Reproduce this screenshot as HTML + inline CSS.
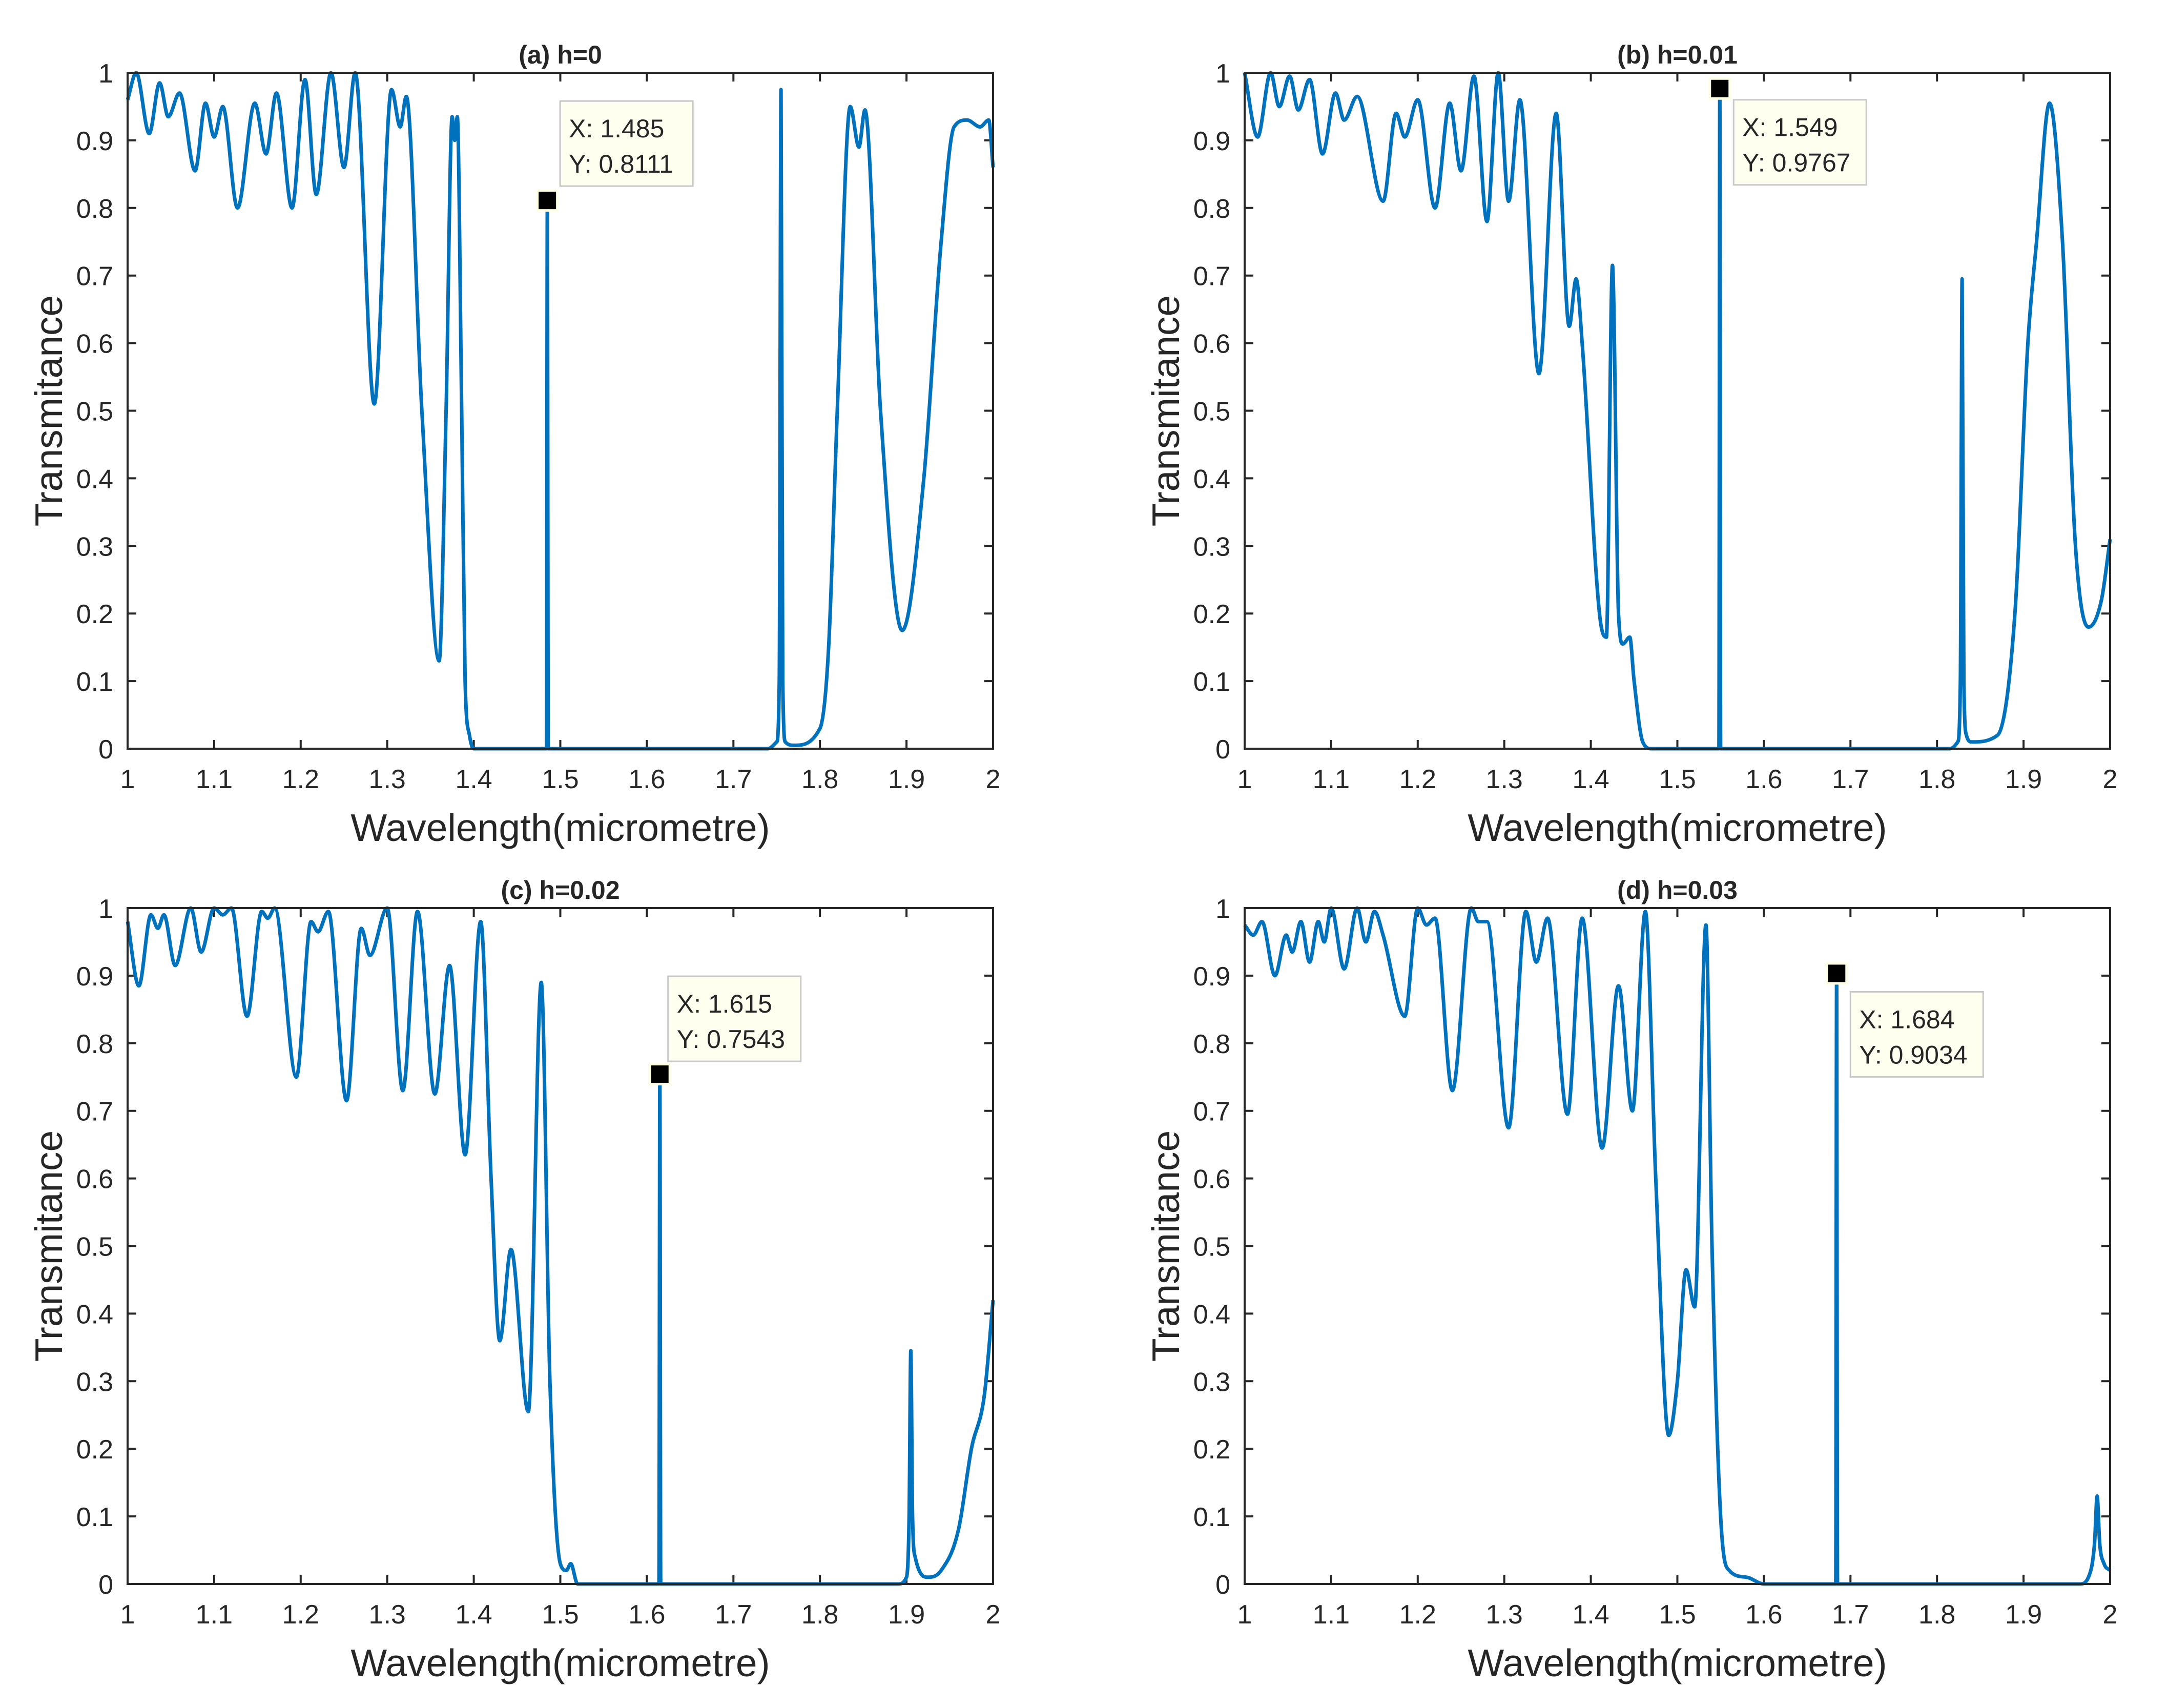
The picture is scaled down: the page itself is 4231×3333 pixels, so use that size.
<!DOCTYPE html>
<html><head><meta charset="utf-8">
<style>
html,body{margin:0;padding:0;background:#fff;}
svg{display:block;}
text{font-family:"Liberation Sans",Arial,sans-serif;fill:#262626;}
</style></head>
<body>
<svg id="chart" xmlns="http://www.w3.org/2000/svg" width="4231" height="3333" viewBox="0 0 4231 3333"></svg>
<script>
const xTicks = [1,1.1,1.2,1.3,1.4,1.5,1.6,1.7,1.8,1.9,2];
const xTickLabels = ["1","1.1","1.2","1.3","1.4","1.5","1.6","1.7","1.8","1.9","2"];
const yTicks = [0,0.1,0.2,0.3,0.4,0.5,0.6,0.7,0.8,0.9,1];
const yTickLabels = ["0","0.1","0.2","0.3","0.4","0.5","0.6","0.7","0.8","0.9","1"];
const panelTitles = ["(a) h=0","(b) h=0.01","(c) h=0.02","(d) h=0.03"];

const xA = [1.0,1.01,1.025,1.037,1.047,1.06,1.078,1.09,1.1,1.11,1.127,1.147,1.16,1.172,1.19,1.205,1.218,1.235,1.25,1.263,1.285,1.305,1.315,1.322,1.34,1.36,1.368,1.375,1.378,1.381,1.386,1.39,1.395,1.4,1.484,1.485,1.486,1.74,1.75,1.753,1.755,1.757,1.76,1.77,1.8,1.81,1.82,1.835,1.845,1.852,1.87,1.895,1.92,1.94,1.955,1.97,1.985,1.995,2.0];
const yA = [0.96,1.0,0.91,0.985,0.935,0.97,0.855,0.955,0.905,0.95,0.80,0.955,0.88,0.97,0.80,0.99,0.82,1.0,0.86,1.0,0.51,0.975,0.92,0.965,0.5,0.13,0.5,0.935,0.9,0.935,0.5,0.1,0.02,0.0,0.0,0.8111,0.0,0.0,0.01,0.1,0.975,0.1,0.01,0.005,0.03,0.15,0.5,0.95,0.89,0.945,0.5,0.175,0.4,0.75,0.92,0.93,0.92,0.93,0.86];
const xB = [1.0,1.015,1.03,1.04,1.052,1.062,1.075,1.09,1.105,1.115,1.13,1.16,1.175,1.185,1.2,1.22,1.237,1.25,1.265,1.28,1.293,1.305,1.318,1.34,1.36,1.375,1.383,1.39,1.41,1.418,1.425,1.432,1.437,1.445,1.45,1.46,1.47,1.548,1.549,1.55,1.815,1.824,1.827,1.829,1.831,1.834,1.84,1.87,1.89,1.905,1.915,1.93,1.945,1.96,1.975,1.99,2.0];
const yB = [1.0,0.905,1.0,0.95,0.995,0.945,0.99,0.88,0.97,0.93,0.965,0.81,0.94,0.905,0.96,0.80,0.955,0.855,0.995,0.78,1.0,0.81,0.96,0.555,0.94,0.625,0.695,0.6,0.2,0.165,0.715,0.2,0.155,0.165,0.1,0.01,0.0,0.0,0.9767,0.0,0.0,0.01,0.1,0.695,0.1,0.02,0.01,0.02,0.2,0.6,0.75,0.955,0.75,0.3,0.18,0.22,0.31];
const xC = [1.0,1.013,1.027,1.035,1.042,1.055,1.073,1.085,1.1,1.11,1.12,1.138,1.155,1.162,1.17,1.195,1.212,1.22,1.232,1.253,1.27,1.28,1.3,1.318,1.335,1.355,1.372,1.39,1.408,1.42,1.43,1.443,1.463,1.478,1.488,1.5,1.507,1.512,1.52,1.614,1.615,1.616,1.89,1.9,1.903,1.905,1.907,1.91,1.925,1.94,1.96,1.975,1.99,2.0];
const yC = [0.98,0.885,0.99,0.97,0.99,0.915,1.0,0.935,1.0,0.99,1.0,0.84,0.995,0.985,1.0,0.75,0.98,0.965,0.995,0.715,0.97,0.93,1.0,0.73,0.995,0.725,0.915,0.635,0.98,0.6,0.36,0.495,0.255,0.89,0.3,0.03,0.02,0.03,0.0,0.0,0.7543,0.0,0.0,0.01,0.1,0.345,0.1,0.04,0.01,0.02,0.08,0.2,0.28,0.42];
const xD = [1.0,1.01,1.02,1.035,1.048,1.055,1.065,1.075,1.085,1.092,1.1,1.115,1.13,1.14,1.15,1.16,1.185,1.2,1.21,1.22,1.24,1.262,1.27,1.28,1.305,1.325,1.337,1.35,1.373,1.39,1.413,1.432,1.448,1.463,1.475,1.49,1.5,1.51,1.52,1.533,1.54,1.55,1.56,1.58,1.6,1.683,1.684,1.685,1.965,1.975,1.982,1.985,1.988,1.993,2.0];
const yD = [0.975,0.96,0.98,0.9,0.96,0.935,0.98,0.92,0.98,0.95,1.0,0.91,1.0,0.95,0.995,0.96,0.84,1.0,0.975,0.985,0.73,1.0,0.98,0.98,0.675,0.995,0.92,0.985,0.695,0.985,0.645,0.885,0.7,0.995,0.6,0.22,0.3,0.465,0.41,0.975,0.5,0.1,0.02,0.01,0.0,0.0,0.9034,0.0,0.0,0.01,0.06,0.13,0.06,0.03,0.02];

const tipX = [1.485,1.549,1.615,1.684];
const tipY = [0.8111,0.9767,0.7543,0.9034];

const NS = "http://www.w3.org/2000/svg";
const svg = document.getElementById('chart');
function el(tag, attrs, parent){
  const e = document.createElementNS(NS, tag);
  for (const k in attrs) e.setAttribute(k, attrs[k]);
  (parent||svg).appendChild(e);
  return e;
}
function monoPath(px, py){
  const n = px.length;
  const d = [], m = new Array(n);
  for (let i=0;i<n-1;i++) d.push((py[i+1]-py[i])/(px[i+1]-px[i]));
  m[0]=d[0]; m[n-1]=d[n-2];
  for (let i=1;i<n-1;i++){
    if (d[i-1]*d[i] <= 0) m[i]=0;
    else { m[i]=(d[i-1]+d[i])/2; }
  }
  for (let i=0;i<n-1;i++){
    if (d[i]===0){ m[i]=0; m[i+1]=0; continue; }
    const a=m[i]/d[i], b=m[i+1]/d[i], s=a*a+b*b;
    if (s>9){ const t=3/Math.sqrt(s); m[i]=t*a*d[i]; m[i+1]=t*b*d[i]; }
  }
  let p = "M"+px[0].toFixed(1)+","+py[0].toFixed(1);
  for (let i=0;i<n-1;i++){
    const h=(px[i+1]-px[i])/3;
    p += " C"+(px[i]+h).toFixed(1)+","+(py[i]+m[i]*h).toFixed(1)+" "+(px[i+1]-h).toFixed(1)+","+(py[i+1]-m[i+1]*h).toFixed(1)+" "+px[i+1].toFixed(1)+","+py[i+1].toFixed(1);
  }
  return p;
}

const panels = [
  {L:249,T:142,xs:xA,ys:yA,tipDx:25,tipDy:-194,key:'a'},
  {L:2429,T:142,xs:xB,ys:yB,tipDx:27,tipDy:22,key:'b'},
  {L:249,T:1772,xs:xC,ys:yC,tipDx:16,tipDy:-191,key:'c'},
  {L:2429,T:1772,xs:xD,ys:yD,tipDx:27,tipDy:36,key:'d'}
];
const W=1689, H=1319;

panels.forEach((P, idx)=>{
  const g = el('g',{});
  
  
  const sx = v => P.L + (v-1)*W;
  const sy = v => P.T + H - v*H;

  xTicks.forEach((t,i)=>{
    const x = sx(t);
    const tk = el('path',{d:`M${x},${P.T+H} v-17 M${x},${P.T} v17`,stroke:'#262626','stroke-width':4,fill:'none'},g);
    
    
    const lb = el('text',{x:x,y:P.T+H+77,'font-size':52,'text-anchor':'middle'},g);
    lb.textContent = xTickLabels[i];
    
    
  });
  yTicks.forEach((t,i)=>{
    const y = sy(t);
    const tk = el('path',{d:`M${P.L},${y} h17 M${P.L+W},${y} h-17`,stroke:'#262626','stroke-width':4,fill:'none'},g);
    
    
    const lb = el('text',{x:P.L-28,y:y+19,'font-size':52,'text-anchor':'end'},g);
    lb.textContent = yTickLabels[i];
    
    
  });

  const px = P.xs.map(sx), py = P.ys.map(sy);
  const line = el('path',{d:monoPath(px,py),stroke:'#0072BD','stroke-width':7,fill:'none','stroke-linejoin':'round'},g);
  
  

  const box = el('rect',{x:P.L,y:P.T,width:W,height:H,fill:'none',stroke:'#262626','stroke-width':4},g);
  
  

  const ti = el('text',{x:P.L+W/2,y:P.T-18,'font-size':50,'font-weight':'bold','text-anchor':'middle',fill:'#000'},g);
  ti.textContent = panelTitles[idx];
  
  

  const xl = el('text',{x:P.L+W/2,y:P.T+H+180,'font-size':75,'text-anchor':'middle'},g);
  xl.textContent = 'Wavelength(micrometre)';
  
  
  const yx = P.L-128, yy = P.T+H/2;
  const yl = el('text',{x:yx,y:yy,'font-size':75,'text-anchor':'middle',transform:`rotate(-90 ${yx} ${yy})`},g);
  yl.textContent = 'Transmitance';
  
  

  const mx = sx(tipX[idx]), my = sy(tipY[idx]);
  const halo = el('rect',{x:mx-22,y:my-22,width:44,height:44,fill:'#FFFFE6'},g);
  
  
  const mk = el('rect',{x:mx-17,y:my-17,width:34,height:34,fill:'#000'},g);
  
  
  const bx = mx+P.tipDx, by = my+P.tipDy;
  const tb = el('rect',{x:bx,y:by,width:259,height:166,fill:'#FFFFF0',stroke:'#C8C8C8','stroke-width':3},g);
  
  
  const t1 = el('text',{x:bx+17,y:by+71,'font-size':50,fill:'#000'},g);
  t1.textContent = 'X: '+tipX[idx];
  
  
  const t2 = el('text',{x:bx+17,y:by+140,'font-size':50,fill:'#000'},g);
  t2.textContent = 'Y: '+tipY[idx];
  
  
});
</script>
</body></html>
